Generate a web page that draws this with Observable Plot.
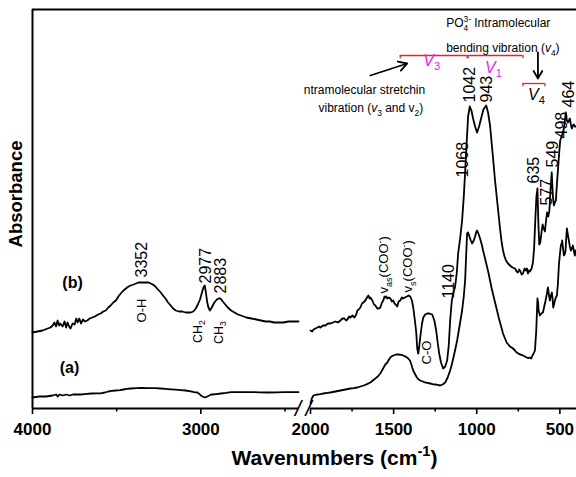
<!DOCTYPE html>
<html>
<head>
<meta charset="utf-8">
<script src="https://cdn.jsdelivr.net/npm/d3@7"></script>
<script src="https://cdn.jsdelivr.net/npm/@observablehq/plot@0.6"></script>
<style>
  body { margin: 0; background: #fff; }
  #chart svg { display: block; }
</style>
</head>
<body>
<div id="chart"></div>
<script>
// FTIR absorbance spectra, [wavenumber cm-1, absorbance a.u.]
// Sample (b), high-wavenumber window
const bHigh = [[4000,19.0],[3970,19.25],[3940,19.5],[3910,20],[3893,20.25],[3880,20.75],[3870,21.5],[3860,20.5],[3851,22],[3842,20.75],[3835,21.25],[3821,20.5],[3810,21.75],[3800,20.25],[3792,21.5],[3782,20.5],[3774,20],[3762,21.25],[3750,21],[3740,22.5],[3732,21.5],[3722,22.5],[3712,21.25],[3700,22.25],[3688,21.75],[3675,22],[3660,22.5],[3645,22.75],[3630,23],[3610,23.5],[3595,23.75],[3580,24.25],[3565,24.5],[3550,25.25],[3536,25.75],[3520,26.5],[3505,27],[3490,28],[3476,28.75],[3460,29.5],[3445,30],[3430,30.5],[3417,30.75],[3400,31],[3385,31.25],[3370,31.5],[3352,31.5],[3338,31.5],[3325,31.5],[3310,31.5],[3298,31.25],[3285,31],[3270,30.5],[3255,29.75],[3238,29],[3225,28.25],[3210,27.5],[3195,26.5],[3179,25.75],[3165,25],[3149,24.5],[3130,24.25],[3110,24.25],[3090,24],[3077,24],[3060,24],[3045,24.25],[3030,25],[3018,26],[3005,27.25],[2995,28.75],[2985,30.25],[2977,30.75],[2970,29],[2962,26.5],[2955,25.25],[2946,24.5],[2935,25.25],[2920,26.5],[2905,27.25],[2895,27.5],[2883,27.5],[2870,26.75],[2855,26],[2840,25.25],[2820,24.5],[2800,24],[2780,23.5],[2762,23.25],[2730,22.75],[2700,22.5],[2670,22.25],[2643,22],[2615,21.75],[2590,21.75],[2565,21.5],[2542,21.5],[2510,21.5],[2480,21.75],[2450,21.75],[2420,21.75]];

// Sample (b), fingerprint window
const bLow = [[2000,19.5],[1990,19.25],[1982,19.75],[1970,20],[1958,20.25],[1948,20.5],[1940,20.25],[1925,20.75],[1910,20.75],[1895,21.25],[1880,21.25],[1865,21.5],[1850,21.75],[1835,21.5],[1820,22],[1808,22.5],[1796,22.5],[1786,22],[1778,22.25],[1768,23],[1760,22.75],[1748,23.25],[1736,22.75],[1725,23.5],[1718,24.5],[1710,24.75],[1700,25.25],[1690,26.25],[1682,26.5],[1670,27],[1660,27.75],[1652,28.25],[1645,27.5],[1640,27.75],[1628,27],[1618,26],[1610,25.75],[1598,25],[1588,25],[1580,25.25],[1570,26.5],[1562,27],[1555,28],[1550,27.75],[1544,28],[1538,27.5],[1528,27.75],[1520,27.5],[1510,26.75],[1502,27],[1495,26.25],[1488,26],[1478,25.5],[1470,26.75],[1460,27],[1450,27.75],[1442,27.5],[1432,27.75],[1420,28],[1410,28.25],[1400,28],[1390,27],[1382,25.25],[1372,22],[1364,19],[1358,15],[1352,13.75],[1346,15.5],[1340,17.75],[1330,21],[1322,22.75],[1310,23.5],[1298,23.75],[1285,23.75],[1268,23.5],[1255,22],[1244,19.5],[1235,16.5],[1226,13.75],[1215,11.5],[1202,10],[1190,10.5],[1178,12],[1168,16],[1160,22],[1150,27],[1140,29],[1130,30.5],[1120,34],[1112,38.75],[1100,42.5],[1088,47],[1078,53],[1070,59],[1060,67],[1052,73],[1042,75.5],[1032,74.5],[1022,72.5],[1010,70.5],[998,69],[986,70.5],[974,72.5],[960,74.75],[943,75.75],[932,74],[920,70.75],[905,64],[890,57],[875,51],[860,45],[850,41.5],[842,39.5],[833,38],[824,37],[812,36.25],[800,35.75],[785,35.25],[770,35],[760,34.25],[752,34],[745,34.75],[740,34.5],[730,33.5],[722,33.75],[712,35],[704,34.5],[698,35],[692,33.75],[686,34.5],[680,34.25],[670,35],[662,36.5],[655,40],[648,47],[641,53],[635,55],[629,46],[624,41],[618,41.5],[612,43.5],[604,46],[597,45],[590,44.25],[583,47],[577,49],[570,48],[563,49.5],[556,55],[549,59],[542,53],[536,50.75],[530,51.5],[524,52],[518,56],[510,60.5],[504,64],[498,67],[490,68],[482,69],[476,70],[470,72],[464,74],[458,72],[452,71.5],[446,72],[440,72.5],[434,71],[428,70],[422,70.75],[416,71],[410,70.5],[404,70.5]];

// Sample (a), high-wavenumber window
const aHigh = [[4000,2.75],[3960,3],[3920,3],[3880,3.25],[3860,3.5],[3850,3],[3840,3.5],[3820,3.25],[3800,3.5],[3780,3.25],[3760,3.5],[3740,3.5],[3714,3.5],[3690,3.6],[3650,3.75],[3620,3.8],[3595,3.8],[3570,4],[3550,4.25],[3530,4.4],[3506,4.5],[3480,4.6],[3460,4.75],[3440,4.9],[3417,5],[3380,5.1],[3350,5.15],[3320,5.1],[3298,5.1],[3270,5.1],[3240,5],[3210,4.9],[3179,4.8],[3150,4.7],[3120,4.6],[3090,4.5],[3060,4.3],[3040,4.1],[3020,4],[3008,3.6],[3000,3.25],[2990,3],[2975,2.75],[2962,3],[2950,3.25],[2940,3.5],[2929,3.5],[2910,3.6],[2880,3.75],[2850,3.9],[2821,4.1],[2780,4.1],[2740,4.1],[2700,4.1],[2650,4.05],[2600,4],[2550,4.05],[2500,4.1],[2460,4.1],[2420,4.1]];

// Sample (a), fingerprint window
const aLow = [[2000,1.25],[1992,2.5],[1982,3.25],[1970,3.4],[1960,3.5],[1940,3.6],[1922,3.75],[1900,3.9],[1880,4],[1850,4.25],[1820,4.5],[1790,4.75],[1760,5],[1740,5.1],[1718,5.25],[1700,5.5],[1680,5.75],[1660,6.1],[1640,6.5],[1625,7],[1610,7.5],[1595,8],[1580,8.75],[1570,9.5],[1560,10.25],[1550,11],[1538,11.5],[1528,12.25],[1520,12.75],[1510,13.1],[1502,13.25],[1485,13.5],[1470,13.5],[1455,13.4],[1442,13.25],[1425,12.9],[1412,12.5],[1402,12],[1395,11.25],[1388,10.25],[1382,9.5],[1370,8.5],[1360,7.75],[1350,7.25],[1340,7],[1325,6.75],[1310,6.5],[1295,6.4],[1280,6.25],[1265,6.1],[1250,6],[1235,5.9],[1220,5.75],[1205,6],[1190,6.5],[1175,7.75],[1160,9.5],[1150,11],[1140,12.75],[1128,15],[1118,17],[1108,19.5],[1100,21.5],[1088,24.5],[1078,28],[1070,32],[1064,38],[1058,43.75],[1052,44],[1044,43],[1036,42],[1028,41.25],[1018,42],[1010,43],[1004,44],[998,44.5],[990,43.75],[980,42.5],[970,41],[962,39.5],[950,37.5],[940,35.75],[930,34],[920,32],[910,30],[900,28.25],[890,26.5],[878,24.5],[868,22.75],[860,21.5],[850,20],[842,18.75],[830,17.5],[820,16.5],[810,16],[800,15.5],[790,15.25],[782,15],[770,14.5],[760,14],[750,13.75],[740,13.5],[730,13.4],[722,13.25],[710,13],[700,12.75],[690,12.6],[680,12.75],[672,12.5],[665,13.25],[658,13.75],[650,14.5],[646,17],[642,19.5],[638,24],[635,27.5],[631,26.5],[628,24.5],[620,23.25],[611,23.75],[602,24],[594,25.5],[586,27],[579,28.5],[572,30.25],[566,28.5],[560,27],[554,28.25],[548,29],[544,27.5],[540,25.25],[535,26],[530,27],[524,27.75],[518,28.25],[512,31],[506,35.75],[500,38.5],[494,40.75],[488,41.5],[486,42],[481,40],[476,38.25],[471,38.5],[466,39.5],[462,42.5],[458,45],[452,43.5],[446,42],[440,40.5],[434,39.5],[428,40],[422,40.75],[416,39.5],[410,38.25],[404,39.5]];

// Labelled band positions (cm-1)
const peakWn = [3352, 2977, 2883, 1140, 1068, 1042, 943, 635, 577, 549, 498, 464];

// Axis ticks and broken-axis windows
const majorTicks = [4000, 3000, 2000, 1500, 1000, 500];
const minorTicks = [3500, 2500, 1750, 1250, 750];
const highWindow = [4000, 2420];
const lowWindow = [2000, 400];

// Phosphate band groups: [from, to] in cm-1
const po4Bands = [[1460, 1058], [1052, 722]];
const po4Bend = [[722, 590]];

// ---- layout of the annotations ----
const peakLabelAt = [32.75, 31.25, 28.75, 27.5, 57.75, 76.5, 76.5, 56.25, 50.75, 60.25, 67.5, 75.25];
const peakNudge = [0, 1, 0, -5, -3, 0, 1, -4, 0, 1, 2, 3];

const sampleTags = [
  {text: "(b)", x: 3762, y: 31.5},
  {text: "(a)", x: 3780, y: 10.25}
];

const flatNotes = [
  {text: "PO_{4}^{3-} Intramolecular", x: 1184, y: 96.25, anchor: "start", size: 12, fill: "#000"},
  {text: "bending vibration (*v*_{4})", x: 1184, y: 90, anchor: "start", size: 12, fill: "#000"},
  {text: "ntramolecular stretchin", x: 1310, y: 79.5, anchor: "end", size: 12, fill: "#000"},
  {text: "vibration (*v*_{3} and v_{2})", x: 1322, y: 75, anchor: "end", size: 12, fill: "#000"},
  {text: "*V*_{3}", x: 1322, y: 87, anchor: "start", size: 16, fill: "#f020f0"},
  {text: "*V*_{1}", x: 950, y: 85.25, anchor: "start", size: 16, fill: "#f020f0"},
  {text: "*V*_{4}", x: 692, y: 78.5, anchor: "start", size: 16, fill: "#000"}
];

const sideNotes = [
  {text: "O-H", x: 3352, y: 24.5, anchor: "middle", size: 13},
  {text: "CH_{2}", x: 3018, y: 19.25, anchor: "middle", size: 12.5},
  {text: "CH_{3}", x: 2893, y: 19, anchor: "middle", size: 12.5},
  {text: "C-O", x: 1298, y: 14, anchor: "middle", size: 13},
  {text: "v_{as}(COO^{-})", x: 1556, y: 28.75, anchor: "start", size: 13},
  {text: "v_{s}(COO^{-})", x: 1412, y: 29, anchor: "start", size: 13}
];

const pointers = [
  {x1: 1640, y1: 83.25, x2: 1418, y2: 86.25},
  {x1: 632, y1: 89, x2: 632, y2: 82.5}
];

const bracketY = 88.25, bendY = 81.25, bracketTick = 0.8;
const red = "#e8202a";
const font = "'Liberation Sans', Arial, Helvetica, sans-serif";

const wn = d => d[0], ab = d => d[1];
const spectrum = data => Plot.line(data, {x: wn, y: ab, stroke: "#000", strokeWidth: 1.8, strokeLinejoin: "round"});

const bracketMarks = (bands, y) => [
  Plot.ruleY(bands, {y: () => y, x1: d => d[0], x2: d => d[1], stroke: red, strokeWidth: 1.3}),
  Plot.ruleX(bands.flat(), {x: d => d, y1: () => y, y2: () => y - bracketTick, stroke: red, strokeWidth: 1.3})
];

const chart = Plot.plot({
  width: 576,
  height: 477,
  marginLeft: 32,
  marginRight: 0,
  marginTop: 9,
  marginBottom: 69,
  x: {type: "linear", domain: [4000, 2420, 2000, 400], range: [32, 298, 310, 576], axis: null},
  y: {domain: [0, 99.75], axis: null},
  style: {fontFamily: font, color: "#000", background: "#fff", overflow: "visible"},
  marks: [
    // frame: left edge, top edge, broken bottom axis
    Plot.ruleX([highWindow[0]], {y1: 0, y2: 99.75, strokeWidth: 2}),
    Plot.ruleY([99.75], {x1: highWindow[0], x2: lowWindow[1], strokeWidth: 2}),
    Plot.ruleY([highWindow, lowWindow], {y: () => 0, x1: d => d[0], x2: d => d[1], strokeWidth: 2}),
    Plot.text(["/\u2009/"], {x: () => 2250, y: () => 0, text: d => d, fontSize: 22, fontStyle: "italic"}),
    Plot.axisX({ticks: majorTicks, tickSize: 6, tickPadding: 8, tickFormat: "d", fontSize: 17, fontWeight: "bold", strokeWidth: 1.6, label: null}),
    Plot.axisX({ticks: minorTicks, tickSize: 3.5, tickFormat: () => "", strokeWidth: 1.6, label: null}),

    // spectra
    spectrum(bHigh), spectrum(bLow), spectrum(aHigh), spectrum(aLow),

    // band labels
    ...peakWn.map((w, i) => Plot.text([w], {
      x: d => d, y: () => peakLabelAt[i], text: d => String(d),
      rotate: -90, textAnchor: "start", dx: peakNudge[i], fontSize: 16, fill: "#000"
    })),
    ...sideNotes.map(n => Plot.text([n], {
      x: "x", y: "y", text: "text", rotate: -90, textAnchor: n.anchor, fontSize: n.size, fill: "#000"
    })),
    Plot.text(sampleTags, {x: "x", y: "y", text: "text", fontSize: 16, fontWeight: "bold", fill: "#000"}),

    // phosphate band groups and pointers
    ...bracketMarks(po4Bands, bracketY),
    ...bracketMarks(po4Bend, bendY),
    Plot.arrow(pointers, {x1: "x1", y1: "y1", x2: "x2", y2: "y2", stroke: "#000", strokeWidth: 1.8, headLength: 8}),
    ...flatNotes.map(n => Plot.text([n], {
      x: "x", y: "y", text: "text", textAnchor: n.anchor, fontSize: n.size, fill: n.fill
    })),

    // axis titles
    Plot.text(["Absorbance"], {frameAnchor: "left", text: d => d, textAnchor: "middle", rotate: -90, dx: -16, dy: -15, fontSize: 18.5, fontWeight: "bold"}),
    Plot.text(["Wavenumbers (cm^{-1})"], {frameAnchor: "bottom", text: d => d, textAnchor: "middle", dx: 30, dy: 56, fontSize: 21, fontWeight: "bold"})
  ]
});

// Turn *italic*, _{sub} and ^{sup} markup inside text labels into tspans
function setRichText(svg) {
  const ns = "http://www.w3.org/2000/svg";
  const splitter = /(\*[^*]+\*|_\{[^}]*\}|\^\{[^}]*\})/;
  for (const t of svg.querySelectorAll("text")) {
    if (t.querySelector("tspan")) continue;
    const src = t.textContent;
    if (!splitter.test(src)) continue;
    t.textContent = "";
    let shift = 0, prev = null;
    for (const part of src.split(splitter)) {
      if (!part) continue;
      const ts = document.createElementNS(ns, "tspan");
      let body = part, size = 1, target = 0, italic = false, kind = "n";
      if (part[0] === "_") { body = part.slice(2, -1); size = 0.7; target = 0.28; kind = "sub"; }
      else if (part[0] === "^") { body = part.slice(2, -1); size = 0.7; target = -0.42; kind = "sup"; }
      else if (part[0] === "*") { body = part.slice(1, -1); italic = true; }
      if (size !== 1) ts.setAttribute("font-size", `${size * 100}%`);
      if (target !== shift) ts.setAttribute("dy", `${((target - shift) / size).toFixed(3)}em`);
      if (italic) ts.setAttribute("font-style", "italic");
      if (kind === "sup" && prev && prev.kind === "sub") ts.setAttribute("dx", `-${(prev.len * 0.556).toFixed(3)}em`);
      ts.textContent = body;
      t.appendChild(ts);
      shift = target;
      prev = {kind, len: body.length};
    }
  }
}

setRichText(chart);
document.getElementById("chart").append(chart);
</script>
</body>
</html>
